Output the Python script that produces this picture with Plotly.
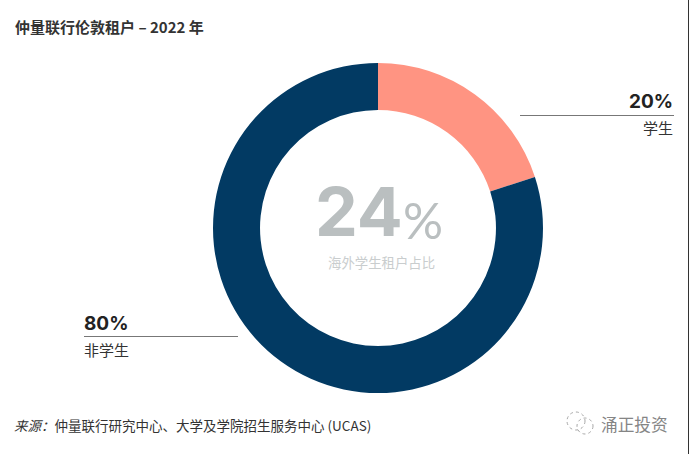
import plotly.graph_objects as go

W, H = 690, 454
CJK = "Noto Sans CJK SC"
LATIN = "Inter, Noto Sans CJK SC"

labels = ["学生", "非学生"]
shares = [20, 80]
colors = ["#FF9482", "#023A63"]


def px(x):
    return x / W


def py(y):
    return 1 - y / H


def note(x, y, text, size, color="#2B2B2B", anchor="left", font=CJK):
    fig.add_annotation(x=px(x), y=py(y), text=text, showarrow=False, xref="paper", yref="paper",
                       xanchor=anchor, yanchor="middle", borderpad=0, borderwidth=0,
                       font=dict(size=size, color=color, family=font))


def rule(x0, x1, y, color="#777777", width=1):
    fig.add_shape(type="line", xref="paper", yref="paper", x0=px(x0), x1=px(x1),
                  y0=py(y), y1=py(y), line=dict(color=color, width=width))


def bubble(x0, y0, x1, y1):
    fig.add_shape(type="circle", xref="paper", yref="paper", x0=px(x0), x1=px(x1),
                  y0=py(y0), y1=py(y1), line=dict(color="#A8A8A8", width=1, dash="dot"))


fig = go.Figure(go.Pie(
    labels=labels,
    values=shares,
    hole=0.715,
    sort=False,
    direction="clockwise",
    rotation=0,
    textinfo="none",
    marker=dict(colors=colors, line=dict(width=0)),
    domain=dict(x=[px(213), px(543)], y=[py(393), py(63)]),
))

note(15, 26, "<b>仲量联行伦敦租户 – 2022 年</b>", 15, "#333333")

note(673, 101, "<b>20%</b>", 19, "#222222", "right", LATIN)
rule(520, 674, 115.5)
note(673, 128, "学生", 15, "#333333", "right")

note(84, 323, "<b>80%</b>", 19, "#222222", "left", LATIN)
rule(84, 238, 336.5)
note(84, 349, "非学生", 15, "#333333", "left")

note(403, 211, "<b>24</b>", 68, "#BABFC0", "right", LATIN)
note(403, 220, "%", 50, "#BABFC0", "left", "Lato")
note(381, 262, "海外学生租户占比", 13.4, "#C9CDCE", "center")

note(14, 425, "<i>来源：</i>仲量联行研究中心、大学及学院招生服务中心 (UCAS)", 13.5, "#333333")

# watermark icon and name, bottom right
bubble(567, 412, 585, 430)
bubble(577, 418, 593, 434)
note(601, 424, "涌正投资", 16.7, "#858585")

# dark edge of the source image
fig.add_shape(type="line", xref="paper", yref="paper", x0=px(688.5), x1=px(688.5), y0=0, y1=1,
              line=dict(color="#333333", width=1))

fig.update_layout(
    width=W, height=H,
    margin=dict(l=0, r=0, t=0, b=0),
    showlegend=False,
    paper_bgcolor="white",
)

fig.write_html("out.html", config=dict(displayModeBar=False),
               post_script="document.body.style.margin = '0';")
